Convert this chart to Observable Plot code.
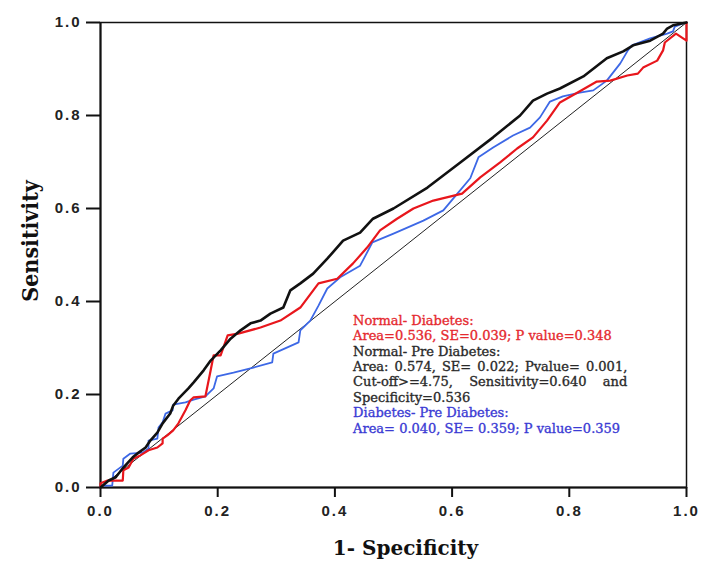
<!DOCTYPE html>
<html>
<head>
<meta charset="utf-8">
<script src="https://cdn.jsdelivr.net/npm/d3@7"></script>
<script src="https://cdn.jsdelivr.net/npm/@observablehq/plot@0.6"></script>
<style>
  html, body { margin: 0; padding: 0; background: #fff; }
  #chart { width: 701px; height: 565px; }
  #chart svg { display: block; }
  #chart [aria-label="x-axis tick label"] text,
  #chart [aria-label="y-axis tick label"] text,
  #chart [aria-label="x-axis"] .tick text,
  #chart [aria-label="y-axis"] .tick text {
    font-family: "Liberation Sans", Arial, sans-serif;
    font-weight: bold;
    font-size: 15px;
    letter-spacing: 2px;
    fill: #222;
  }
  #chart [aria-label="x-axis tick"] path,
  #chart [aria-label="y-axis tick"] path,
  #chart [aria-label="x-axis"] .tick line,
  #chart [aria-label="y-axis"] .tick line {
    stroke: #111;
    stroke-width: 2px;
  }
</style>
</head>
<body>
<div id="chart"></div>
<script>
// ---- axis ticks and titles ----
const xTicks = [0, 0.2, 0.4, 0.6, 0.8, 1.0];
const yTicks = [0, 0.2, 0.4, 0.6, 0.8, 1.0];
const xTitle = "1- Specificity";
const yTitle = "Sensitivity";

// ---- reference diagonal ----
const diagonal = [0, 1];

// ---- Normal - Pre Diabetes (black) ----
const normPreFpr = [0, 0.014, 0.026, 0.039, 0.055, 0.065, 0.077, 0.085, 0.097, 0.106, 0.119, 0.124, 0.133, 0.150, 0.159, 0.176, 0.188, 0.205, 0.222, 0.239, 0.256, 0.273, 0.290, 0.312, 0.324, 0.341, 0.363, 0.387, 0.414, 0.443, 0.465, 0.500, 0.558, 0.614, 0.670, 0.716, 0.738, 0.762, 0.784, 0.824, 0.864, 0.892, 0.909, 0.938, 0.960, 0.967, 0.977, 1];
const normPreTpr = [0, 0.015, 0.022, 0.043, 0.065, 0.075, 0.086, 0.101, 0.118, 0.138, 0.159, 0.176, 0.191, 0.213, 0.226, 0.252, 0.273, 0.295, 0.320, 0.338, 0.353, 0.359, 0.374, 0.387, 0.424, 0.439, 0.460, 0.492, 0.531, 0.548, 0.578, 0.600, 0.645, 0.699, 0.753, 0.800, 0.832, 0.847, 0.858, 0.884, 0.923, 0.938, 0.951, 0.961, 0.976, 0.987, 0.994, 1];

// ---- Normal - Diabetes (red) ----
const normDiabFpr = [0, 0, 0.012, 0.038, 0.039, 0.048, 0.056, 0.068, 0.082, 0.097, 0.106, 0.106, 0.114, 0.124, 0.133, 0.145, 0.153, 0.159, 0.179, 0.188, 0.193, 0.205, 0.217, 0.235, 0.273, 0.307, 0.341, 0.372, 0.404, 0.431, 0.455, 0.477, 0.506, 0.534, 0.568, 0.617, 0.648, 0.682, 0.711, 0.738, 0.762, 0.784, 0.818, 0.847, 0.870, 0.899, 0.917, 0.926, 0.950, 0.960, 0.963, 0.982, 1, 1];
const normDiabTpr = [0, 0.009, 0.015, 0.015, 0.037, 0.043, 0.062, 0.069, 0.080, 0.086, 0.095, 0.105, 0.112, 0.123, 0.138, 0.166, 0.187, 0.194, 0.196, 0.252, 0.284, 0.284, 0.327, 0.331, 0.344, 0.359, 0.387, 0.439, 0.449, 0.482, 0.516, 0.553, 0.578, 0.600, 0.617, 0.632, 0.667, 0.699, 0.729, 0.753, 0.789, 0.828, 0.852, 0.873, 0.875, 0.886, 0.890, 0.903, 0.918, 0.940, 0.957, 0.976, 0.961, 1];

// ---- Diabetes - Pre Diabetes (blue) ----
const diabPreFpr = [0, 0, 0.020, 0.022, 0.038, 0.039, 0.051, 0.072, 0.082, 0.082, 0.097, 0.099, 0.106, 0.111, 0.123, 0.124, 0.145, 0.159, 0.179, 0.193, 0.199, 0.227, 0.261, 0.293, 0.295, 0.338, 0.341, 0.358, 0.372, 0.387, 0.409, 0.443, 0.464, 0.500, 0.551, 0.585, 0.609, 0.631, 0.645, 0.670, 0.704, 0.733, 0.750, 0.767, 0.789, 0.818, 0.841, 0.864, 0.887, 0.900, 0.907, 0.938, 0.967, 0.977, 0.980, 0.994, 1];
const diabPreTpr = [0, 0.004, 0.004, 0.032, 0.047, 0.062, 0.073, 0.075, 0.084, 0.101, 0.105, 0.129, 0.140, 0.159, 0.166, 0.178, 0.183, 0.189, 0.196, 0.213, 0.239, 0.247, 0.258, 0.269, 0.288, 0.312, 0.338, 0.359, 0.391, 0.428, 0.452, 0.477, 0.527, 0.546, 0.574, 0.596, 0.632, 0.665, 0.710, 0.731, 0.757, 0.774, 0.796, 0.830, 0.841, 0.849, 0.854, 0.875, 0.912, 0.940, 0.951, 0.966, 0.976, 0.981, 0.991, 0.998, 1];

// ---- annotation text ----
const annotLines = [
  "Normal- Diabetes:",
  "Area=0.536, SE=0.039; P value=0.348",
  "Normal- Pre Diabetes:",
  "Area: 0.574, SE= 0.022; Pvalue= 0.001,",
  "Cut-off>=4.75, Sensitivity=0.640 and",
  "Specificity=0.536",
  "Diabetes- Pre Diabetes:",
  "Area= 0.040, SE= 0.359; P value=0.359"
];
const annotGroups = ["nd", "nd", "np", "np", "np", "np", "dp", "dp"];
const justifiedLines = [3, 4];

// ---- styling (kept out of data) ----
const groupColor = { nd: "#e5292f", np: "#2a2a2a", dp: "#3b3bd4" };
const lineColor = { nd: "#e8161c", np: "#111111", dp: "#3d68e6" };
const annotLeft = 0.431, annotRight = 0.899, annotTop = 0.359, annotStep = 0.0332;

const idx = arr => d3.range(arr.length);
function curve(fx, fy, color, w) {
  return Plot.line(idx(fx), { x: i => fx[i], y: i => fy[i], stroke: color, strokeWidth: w, strokeLinejoin: "round", curve: "linear" });
}

const annotMarks = Object.keys(groupColor).map(g =>
  Plot.text(idx(annotLines), {
    filter: i => annotGroups[i] === g,
    x: () => annotLeft,
    y: i => annotTop - i * annotStep,
    text: i => annotLines[i],
    fill: groupColor[g],
    stroke: groupColor[g],
    strokeWidth: 0.35,
    textAnchor: "start",
    lineAnchor: "middle",
    fontSize: 13,
    fontFamily: "DejaVu Serif",
    ariaLabel: "annotation"
  })
);

const plot = Plot.plot({
  width: 701,
  height: 565,
  marginLeft: 100,
  marginRight: 15,
  marginTop: 22,
  marginBottom: 78,
  style: { background: "#fff", overflow: "visible" },
  x: { domain: [0, 1], ticks: xTicks, tickFormat: d3.format(".1f"), tickSize: 10, tickPadding: 8, label: null },
  y: { domain: [0, 1], ticks: yTicks, tickFormat: d3.format(".1f"), tickSize: 14, tickPadding: 5, label: null },
  marks: [
    Plot.frame({ stroke: "#111", strokeWidth: 1.5 }),
    Plot.ruleX([0], { stroke: "#111", strokeWidth: 2 }),
    Plot.ruleY([0], { stroke: "#111", strokeWidth: 2 }),
    Plot.line(diagonal, { x: d => d, y: d => d, stroke: "#222", strokeWidth: 1 }),
    curve(diabPreFpr, diabPreTpr, lineColor.dp, 1.8),
    curve(normDiabFpr, normDiabTpr, lineColor.nd, 2.2),
    curve(normPreFpr, normPreTpr, lineColor.np, 2.6),
    ...annotMarks,
    Plot.text([yTitle], { frameAnchor: "left", textAnchor: "middle", lineAnchor: "middle", dx: -70, dy: -14, rotate: -90, text: d => d, fontFamily: "DejaVu Serif Condensed", fontWeight: "bold", fontSize: 23, fill: "#111", ariaLabel: "y-title" }),
    Plot.text([xTitle], { frameAnchor: "bottom", textAnchor: "middle", lineAnchor: "middle", dx: 12, dy: 61, text: d => d, fontFamily: "DejaVu Serif", fontWeight: "bold", fontSize: 20, fill: "#111" })
  ]
});

document.getElementById("chart").appendChild(plot);

// compress the y title a little, like the condensed face of the original
plot.querySelectorAll('[aria-label="y-title"] text').forEach(el => {
  el.setAttribute("textLength", 108);
  el.setAttribute("lengthAdjust", "spacingAndGlyphs");
});

// justify the two wrapped lines of the middle paragraph
const xs = plot.scale("x");
const targetW = (annotRight - annotLeft) * (xs.range[1] - xs.range[0]) / (xs.domain[1] - xs.domain[0]);
const SVGNS = "http://www.w3.org/2000/svg";
plot.querySelectorAll("text").forEach(el => {
  const k = annotLines.indexOf(el.textContent);
  if (!justifiedLines.includes(k)) return;
  const words = annotLines[k].split(" ");
  const x0 = +(el.getAttribute("x") || 0);
  el.textContent = "";
  const spans = words.map(w => {
    const s = document.createElementNS(SVGNS, "tspan");
    s.textContent = w;
    el.appendChild(s);
    return s;
  });
  const widths = spans.map(s => s.getComputedTextLength());
  const gap = (targetW - d3.sum(widths)) / (words.length - 1);
  let cx = x0;
  spans.forEach((s, i) => { s.setAttribute("x", cx); cx += widths[i] + gap; });
});
</script>
</body>
</html>
